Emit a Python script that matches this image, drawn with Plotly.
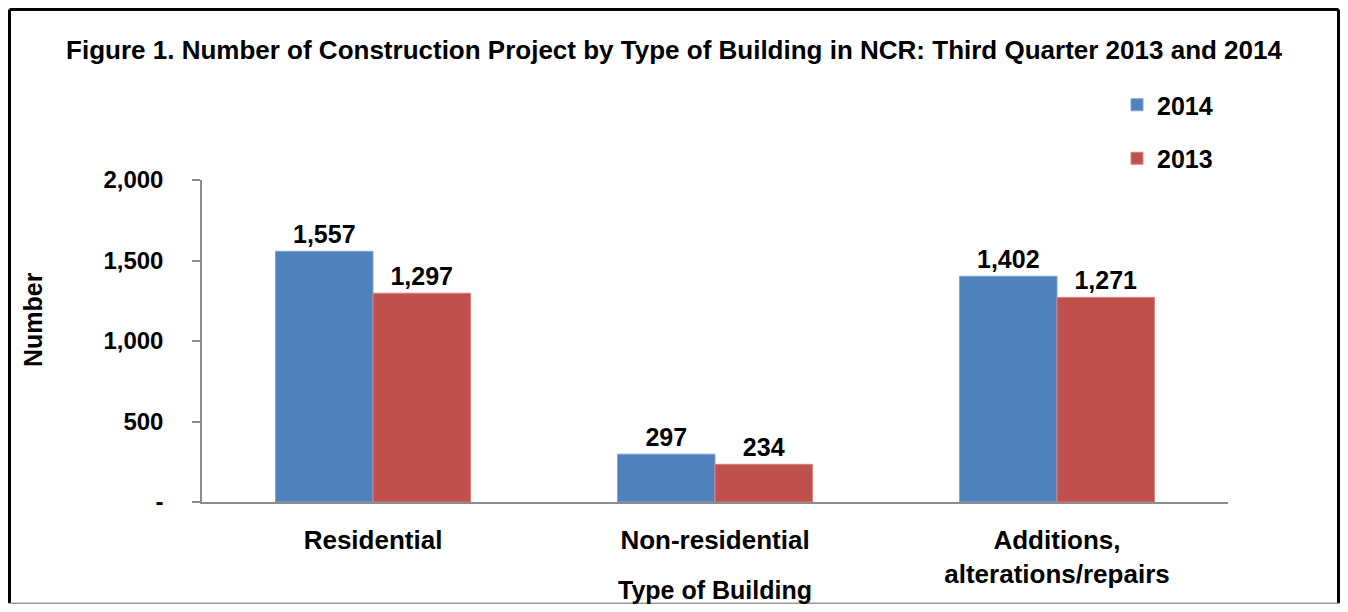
import plotly.graph_objects as go

categories = ["Residential", "Non-residential", "Additions,<br>alterations/repairs"]
series_names = ["2014", "2013"]
values_2014 = [1557, 297, 1402]
values_2013 = [1297, 234, 1271]
y_tickvals = [0, 500, 1000, 1500, 2000]
y_ticktext = ["-", "500", "1,000", "1,500", "2,000"]

# page has an 8px body margin; figure sized to fit window exactly
OFF = 8
W, H = 1348 - 2 * OFF, 612 - 2 * OFF
L = 202 - OFF
T = 180 - OFF
R = W - (1228 - OFF)
B = H - (502 - OFF)
PW, PH = W - L - R, H - T - B


def px(x):  # page pixel -> paper x
    return (x - OFF - L) / PW


def py(y):  # page pixel -> paper y
    return (H - B - (y - OFF)) / PH


FONT = "Liberation Sans, Arial, sans-serif"

fig = go.Figure()
colors = ["#4F81BD", "#C0504D"]
edges = ["#7EA3D3", "#D9837F"]
for name, vals, c, e in zip(series_names, [values_2014, values_2013], colors, edges):
    fig.add_trace(go.Bar(
        x=categories, y=vals, name=name, legendgroup=name,
        marker=dict(color=c, line=dict(color=e, width=1)),
        texttemplate="%{y:,}", textposition="outside", cliponaxis=False,
        textfont=dict(family=FONT, size=25, color="black", weight="bold"),
    ))

fig.update_layout(
    width=W, height=H,
    margin=dict(l=L, r=R, t=T, b=B),
    paper_bgcolor="white", plot_bgcolor="white",
    barmode="group", bargap=0.43, bargroupgap=0,
    font=dict(family=FONT, color="black"),
    title=dict(
        text="Figure 1. Number of Construction Project by Type of Building in NCR: Third Quarter 2013 and 2014",
        x=0.5, xanchor="center", y=1 - (50 - OFF) / H, yanchor="middle",
        font=dict(family=FONT, size=26, color="black", weight="bold"),
    ),
    legend=dict(
        x=px(1117), y=py(82), xanchor="left", yanchor="top",
        font=dict(family=FONT, size=25, color="black", weight="bold"),
        tracegroupgap=18, bgcolor="rgba(0,0,0,0)",
    ),
    showlegend=True,
)

fig.update_yaxes(
    range=[0, 2000], tickvals=y_tickvals, ticktext=y_ticktext,
    showline=True, linecolor="#8C8C8C", linewidth=1.5,
    ticks="outside", ticklen=8, tickcolor="#8C8C8C", tickwidth=1.5,
    showgrid=False, zeroline=False, ticklabelstandoff=24,
    tickfont=dict(family=FONT, size=24, color="black", weight="bold"),
)
fig.update_xaxes(
    showline=True, linecolor="#8C8C8C", linewidth=1.5,
    ticks="", showgrid=False, ticklabelstandoff=14,
    tickfont=dict(family=FONT, size=26, color="black", weight="bold"),
)

fig.add_annotation(
    text="Type of Building", xref="paper", yref="paper",
    x=0.5, y=py(590), xanchor="center", yanchor="middle", showarrow=False,
    font=dict(family=FONT, size=25, color="black", weight="bold"),
)
fig.add_annotation(
    text="Number", xref="paper", yref="paper", textangle=-90,
    x=px(33), y=py(320), xanchor="center", yanchor="middle", showarrow=False,
    font=dict(family=FONT, size=25, color="black", weight="bold"),
)

# outer frame
xl, xr, yt, yb = px(OFF + 1.5), px(OFF + W - 1.5), py(OFF + 1.5), py(OFF + H - 0.75)
fig.add_shape(type="line", xref="paper", yref="paper",
              x0=xl, x1=xl, y0=yt, y1=yb, line=dict(color="black", width=3))
fig.add_shape(type="line", xref="paper", yref="paper",
              x0=xl, x1=xr, y0=yt, y1=yt, line=dict(color="black", width=3))
fig.add_shape(type="line", xref="paper", yref="paper",
              x0=xr, x1=xr, y0=yt, y1=yb, line=dict(color="black", width=3))
fig.add_shape(type="line", xref="paper", yref="paper",
              x0=xl, x1=xr, y0=yb, y1=yb, line=dict(color="#999999", width=1.5))

fig.write_html("out.html")
